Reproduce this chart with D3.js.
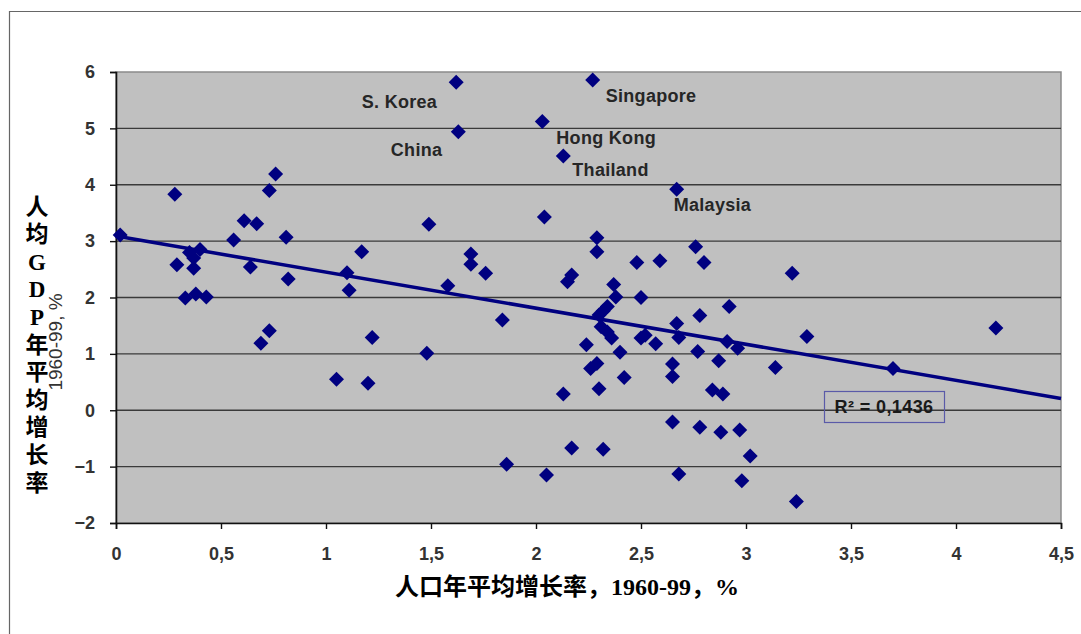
<!DOCTYPE html>
<html>
<head>
<meta charset="utf-8">
<script src="https://cdn.jsdelivr.net/npm/d3@7/dist/d3.min.js"></script>
<style>
body { margin: 0; background: #fff; }
</style>
</head>
<body>
<div id="chart"></div>
<script>
// population growth 1960-99 (x) and GDP per capita growth 1960-99 (y), %
const popGrowth = [0.02, 0.28, 0.29, 0.33, 0.35, 0.37, 0.37, 0.38, 0.40, 0.43,
    0.56, 0.61, 0.64, 0.67, 0.69, 0.73, 0.73, 0.76, 0.81, 0.82,
    1.05, 1.10, 1.11, 1.17, 1.20, 1.22, 1.48, 1.49, 1.58, 1.62,
    1.63, 1.69, 1.69, 1.76, 1.84, 1.86, 2.03, 2.04, 2.05, 2.13,
    2.13, 2.15, 2.17, 2.17, 2.24, 2.26, 2.27, 2.29, 2.29, 2.29,
    2.30, 2.30, 2.31, 2.32, 2.32, 2.34, 2.34, 2.36, 2.37, 2.38,
    2.40, 2.42, 2.48, 2.50, 2.50, 2.52, 2.57, 2.59, 2.65, 2.65,
    2.65, 2.67, 2.67, 2.68, 2.68, 2.76, 2.77, 2.78, 2.78, 2.80,
    2.84, 2.87, 2.88, 2.89, 2.91, 2.92, 2.96, 2.97, 2.98, 3.02,
    3.14, 3.22, 3.24, 3.29, 3.70, 4.19];
const gdpGrowth = [3.11, 3.83, 2.58, 1.99, 2.80, 2.70, 2.52, 2.06, 2.85, 2.01,
    3.02, 3.36, 2.54, 3.31, 1.19, 1.41, 3.90, 4.19, 3.07, 2.33,
    0.55, 2.44, 2.13, 2.81, 0.48, 1.29, 1.01, 3.30, 2.21, 5.82,
    4.94, 2.77, 2.59, 2.43, 1.60, -0.96, 5.12, 3.43, -1.15, 4.51,
    0.29, 2.28, 2.40, -0.67, 1.16, 0.74, 5.86, 3.06, 2.81, 0.83,
    1.69, 0.38, 1.48, 1.76, -0.69, 1.84, 1.39, 1.28, 2.23, 2.01,
    1.03, 0.58, 2.62, 2.00, 1.28, 1.33, 1.18, 2.65, 0.82, 0.60,
    -0.21, 3.92, 1.54, 1.29, -1.13, 2.90, 1.04, 1.68, -0.30, 2.62,
    0.36, 0.88, -0.39, 0.29, 1.22, 1.84, 1.10, -0.35, -1.25, -0.81,
    0.76, 2.43, -1.62, 1.31, 0.74, 1.46];

const xTicks = [0, 0.5, 1, 1.5, 2, 2.5, 3, 3.5, 4, 4.5];
const xTickLabels = ["0", "0,5", "1", "1,5", "2", "2,5", "3", "3,5", "4", "4,5"];
const yTicks = [-2, -1, 0, 1, 2, 3, 4, 5, 6];

// linear trend
const trendX = [0, 4.5];
const trendY = [3.09, 0.21];
const rSquaredText = "R\u00b2 = 0,1436";

const countryNames = ["S. Korea", "China", "Hong Kong", "Singapore", "Thailand", "Malaysia"];
const countryX = [1.62, 1.63, 2.03, 2.27, 2.13, 2.67];
const countryY = [5.82, 4.94, 5.12, 5.86, 4.51, 3.92];

const yTitleChars = ["人", "均", "G", "D", "P", "年", "平", "均", "增", "长", "率"];
const xTitle = "人口年平均增长率，1960-99，%";
const ySubTitle = "1960-99, %";

const W = 1081, H = 634;
const plot = { left: 116, right: 1061, top: 72, bottom: 523 };

const svg = d3.select("#chart")
    .append("svg")
    .attr("width", W)
    .attr("height", H);

// outer frame (top and left only, as in the scan)
svg.append("path")
    .attr("d", `M9.5,${H} L9.5,11.5 L${W},11.5`)
    .attr("fill", "none")
    .attr("stroke", "#666")
    .attr("stroke-width", 1.2);

const x = d3.scaleLinear().domain([0, 4.5]).range([plot.left, plot.right]);
const y = d3.scaleLinear().domain([-2, 6]).range([plot.bottom, plot.top]);

// plot area
svg.append("rect")
    .attr("x", plot.left)
    .attr("y", plot.top)
    .attr("width", plot.right - plot.left)
    .attr("height", plot.bottom - plot.top)
    .attr("fill", "#c0c0c0")
    .attr("stroke", "#8a8a8a")
    .attr("stroke-width", 1.5);

// gridlines
svg.selectAll(".grid")
    .data(yTicks.filter(d => d > -2 && d < 6))
    .enter().append("line")
    .attr("class", "grid")
    .attr("x1", plot.left)
    .attr("x2", plot.right)
    .attr("y1", d => y(d))
    .attr("y2", d => y(d))
    .attr("stroke", "#3a3a3a")
    .attr("stroke-width", 1.4);

// axes
const xAxis = d3.axisBottom(x)
    .tickValues(xTicks)
    .tickSize(6)
    .tickFormat((d, i) => xTickLabels[i]);
const yAxis = d3.axisLeft(y)
    .tickValues(yTicks)
    .tickSize(6)
    .tickFormat(d3.format("d"));

const gx = svg.append("g")
    .attr("transform", `translate(0,${plot.bottom})`)
    .call(xAxis);
const gy = svg.append("g")
    .attr("transform", `translate(${plot.left},0)`)
    .call(yAxis);

[gx, gy].forEach(g => {
    g.select(".domain").attr("stroke", "#111").attr("stroke-width", 1.6);
    g.selectAll(".tick line").attr("stroke", "#111").attr("stroke-width", 1.4);
    g.selectAll(".tick text")
        .attr("fill", "#333")
        .style("font-family", "'Liberation Sans', Arial, sans-serif")
        .style("font-size", "18px")
        .style("font-weight", "bold");
});
gx.selectAll(".tick text").attr("y", 24);
gy.selectAll(".tick text").attr("x", -21);

// trend line
svg.append("line")
    .attr("x1", x(trendX[0]))
    .attr("y1", y(trendY[0]))
    .attr("x2", x(trendX[1]))
    .attr("y2", y(trendY[1]))
    .attr("stroke", "#000080")
    .attr("stroke-width", 3.5);

// diamonds
const dia = 7.5;
svg.selectAll(".pt")
    .data(popGrowth)
    .enter().append("path")
    .attr("class", "pt")
    .attr("d", `M0,${-dia} L${dia},0 L0,${dia} L${-dia},0 Z`)
    .attr("transform", (d, i) => `translate(${x(d)},${y(gdpGrowth[i])})`)
    .attr("fill", "#000080");

// country labels
const labelOffsets = [
    { dx: -19, dy: 26, anchor: "end" },
    { dx: -16, dy: 24, anchor: "end" },
    { dx: 14, dy: 22, anchor: "start" },
    { dx: 13, dy: 22, anchor: "start" },
    { dx: 9, dy: 20, anchor: "start" },
    { dx: -3, dy: 22, anchor: "start" }
];
svg.selectAll(".country")
    .data(countryNames)
    .enter().append("text")
    .attr("class", "country")
    .attr("x", (d, i) => x(countryX[i]) + labelOffsets[i].dx)
    .attr("y", (d, i) => y(countryY[i]) + labelOffsets[i].dy)
    .attr("text-anchor", (d, i) => labelOffsets[i].anchor)
    .style("font-family", "'Liberation Sans', Arial, sans-serif")
    .style("font-size", "18px")
    .style("font-weight", "bold")
    .style("letter-spacing", "0.3px")
    .attr("fill", "#262626")
    .text(d => d);

// R squared box
svg.append("rect")
    .attr("x", 824.5)
    .attr("y", 391.5)
    .attr("width", 120)
    .attr("height", 31)
    .attr("fill", "none")
    .attr("stroke", "#5a5aa8")
    .attr("stroke-width", 1.2);
svg.append("text")
    .attr("x", 884)
    .attr("y", 413)
    .attr("text-anchor", "middle")
    .style("font-family", "'Liberation Sans', Arial, sans-serif")
    .style("font-size", "18px")
    .style("font-weight", "bold")
    .style("letter-spacing", "0.4px")
    .attr("fill", "#1a1a1a")
    .text(rSquaredText);

// y title: stacked characters
const titleFont = "'Liberation Serif', 'Times New Roman', 'Noto Sans CJK SC', serif";
svg.selectAll(".ychar")
    .data(yTitleChars)
    .enter().append("text")
    .attr("class", "ychar")
    .attr("x", 37)
    .attr("y", (d, i) => 207 + i * 27.6)
    .attr("text-anchor", "middle")
    .attr("dominant-baseline", "central")
    .style("font-family", titleFont)
    .style("font-size", "23px")
    .style("font-weight", "bold")
    .attr("fill", "#000")
    .text(d => d);

svg.append("text")
    .attr("transform", "translate(62,342) rotate(-90)")
    .attr("text-anchor", "middle")
    .style("font-family", "'Liberation Sans', Arial, sans-serif")
    .style("font-size", "19px")
    .attr("fill", "#333")
    .text(ySubTitle);

// x title
svg.append("text")
    .attr("x", 567)
    .attr("y", 595)
    .attr("text-anchor", "middle")
    .style("font-family", titleFont)
    .style("font-size", "24px")
    .style("font-weight", "bold")
    .attr("fill", "#000")
    .text(xTitle);
</script>
</body>
</html>
